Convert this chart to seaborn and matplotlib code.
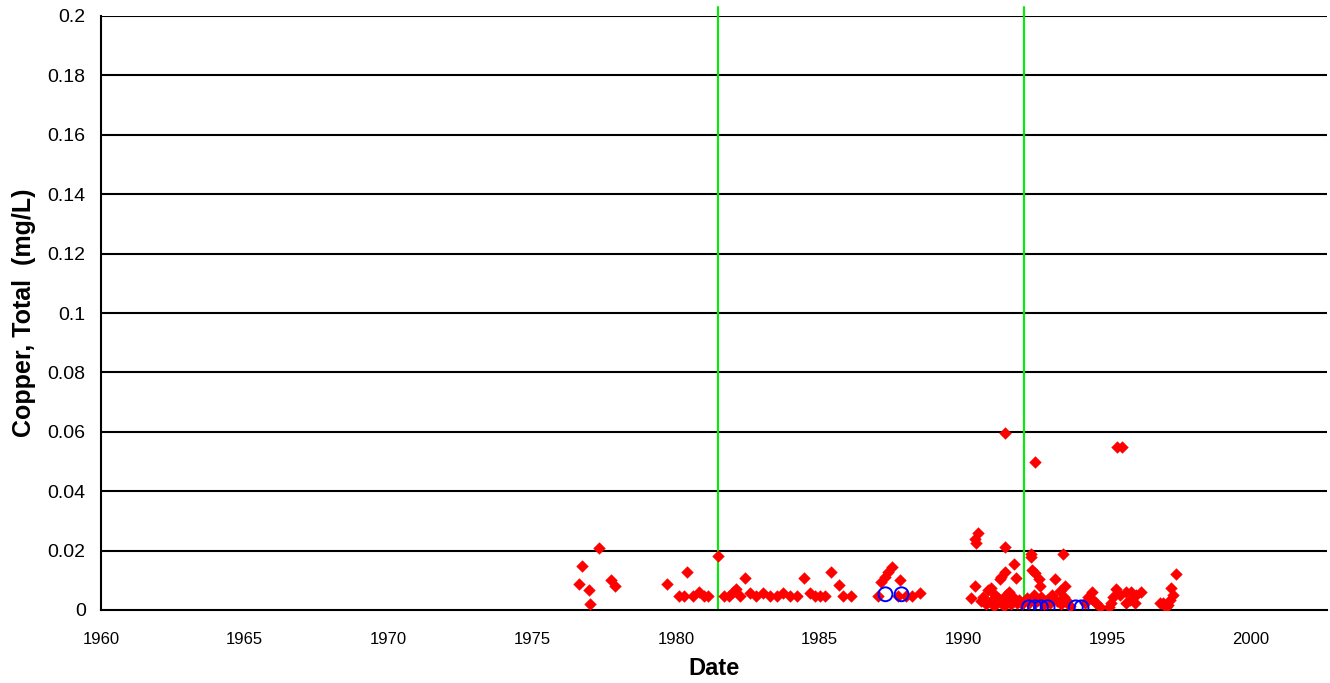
import matplotlib
matplotlib.use("Agg")
import matplotlib.pyplot as plt
import seaborn as sns
import pandas as pd

# ---- data ----
red_years = [
    1976.63, 1976.75, 1976.96, 1977.02, 1977.34, 1977.73, 1977.88,
    1979.70, 1980.10, 1980.28, 1980.37, 1980.58, 1980.80, 1980.98, 1981.10,
    1981.47, 1981.68, 1981.85, 1982.00, 1982.09, 1982.22, 1982.40,
    1982.57, 1982.80, 1983.04, 1983.27, 1983.50, 1983.73, 1983.97, 1984.20,
    1984.46, 1984.66, 1984.83, 1985.00, 1985.18, 1985.41, 1985.68, 1985.82, 1986.10,
    1987.04, 1987.15, 1987.27, 1987.38, 1987.50, 1987.74, 1987.80, 1988.02, 1988.20, 1988.49,
    1990.25, 1990.40, 1990.40, 1990.45, 1990.51, 1990.60, 1990.70, 1990.80, 1990.87,
    1990.96, 1991.00, 1991.05, 1991.10, 1991.15, 1991.20, 1991.27, 1991.32, 1991.44,
    1991.44, 1991.44, 1991.35, 1991.40, 1991.50, 1991.55, 1991.60, 1991.65, 1991.77,
    1991.83, 1991.75, 1991.85, 1991.95, 1992.05,
    1992.20, 1992.28, 1992.35, 1992.35, 1992.40, 1992.45, 1992.49, 1992.50, 1992.55,
    1992.63, 1992.65, 1992.70, 1992.80, 1992.90, 1993.00, 1993.10, 1993.18, 1993.25,
    1993.35, 1993.40, 1993.47, 1993.50, 1993.55, 1993.60, 1993.70,
    1994.23, 1994.34, 1994.46, 1994.52, 1994.63, 1994.75, 1995.07, 1995.15, 1995.21,
    1995.32, 1995.35, 1995.44, 1995.53, 1995.67, 1995.67, 1995.79, 1995.84, 1995.97,
    1996.02, 1996.19, 1996.83, 1996.95, 1997.06, 1997.13, 1997.18, 1997.24, 1997.30, 1997.39,
]
red_values = [
    0.0089, 0.0148, 0.0067, 0.0020, 0.0209, 0.0101, 0.0081,
    0.0088, 0.0046, 0.0046, 0.0128, 0.0046, 0.0060, 0.0046, 0.0046,
    0.0182, 0.0046, 0.0046, 0.0062, 0.0072, 0.0046, 0.0107,
    0.0058, 0.0046, 0.0058, 0.0046, 0.0046, 0.0058, 0.0046, 0.0046,
    0.0107, 0.0058, 0.0046, 0.0046, 0.0046, 0.0128, 0.0083, 0.0046, 0.0046,
    0.0047, 0.0095, 0.0112, 0.0129, 0.0146, 0.0047, 0.0101, 0.0046, 0.0046, 0.0058,
    0.0039, 0.0081, 0.0240, 0.0225, 0.0258, 0.0030, 0.0045, 0.0020, 0.0067,
    0.0073, 0.0035, 0.0015, 0.0050, 0.0025, 0.0040, 0.0103, 0.0112, 0.0129,
    0.0211, 0.0595, 0.0030, 0.0015, 0.0050, 0.0030, 0.0060, 0.0020, 0.0155,
    0.0107, 0.0040, 0.0025, 0.0035, 0.0020,
    0.0040, 0.0025, 0.0190, 0.0178, 0.0135, 0.0050, 0.0499, 0.0123, 0.0030,
    0.0104, 0.0081, 0.0045, 0.0020, 0.0035, 0.0025, 0.0050, 0.0103, 0.0030,
    0.0065, 0.0020, 0.0190, 0.0045, 0.0080, 0.0030, 0.0015,
    0.0023, 0.0045, 0.0062, 0.0034, 0.0023, 0.0009, 0.0009, 0.0025, 0.0043,
    0.0070, 0.0548, 0.0050, 0.0548, 0.0062, 0.0023, 0.0034, 0.0062, 0.0023,
    0.0050, 0.0062, 0.0025, 0.0025, 0.0009, 0.0017, 0.0034, 0.0073, 0.0050, 0.0121,
]
blue_years = [1987.29, 1987.85, 1992.28, 1992.49, 1992.70, 1992.93, 1993.91, 1994.11]
blue_values = [0.0053, 0.0053, 0.0009, 0.0009, 0.0009, 0.0009, 0.0009, 0.0009]

vline_years = [1981.45, 1992.1]

x_ticks = [1960, 1965, 1970, 1975, 1980, 1985, 1990, 1995, 2000]
x_tick_labels = ["1960", "1965", "1970", "1975", "1980", "1985", "1990", "1995", "2000"]
y_ticks = [0, 0.02, 0.04, 0.06, 0.08, 0.1, 0.12, 0.14, 0.16, 0.18, 0.2]
y_tick_labels = ["0", "0.02", "0.04", "0.06", "0.08", "0.1", "0.12", "0.14", "0.16", "0.18", "0.2"]

red_df = pd.DataFrame({"Date": red_years, "Copper": red_values})
blue_df = pd.DataFrame({"Date": blue_years, "Copper": blue_values})

sns.set_style("white")
plt.rcParams["font.family"] = ["Liberation Sans", "DejaVu Sans"]
plt.rcParams["text.color"] = "black"
plt.rcParams["axes.labelcolor"] = "black"

fig = plt.figure(figsize=(13.30, 6.83), dpi=100)
ax = fig.add_axes([101 / 1330, 1 - 610 / 683, (1327 - 101) / 1330, (610 - 16) / 683])

for y in y_ticks[1:]:
    ax.axhline(y, color="black", lw=1.5, zorder=1)

for xv in vline_years:
    ax.axvline(xv, ymin=0, ymax=1.015, color="#00ee00", lw=1.5, clip_on=False, zorder=2)

sns.scatterplot(data=red_df, x="Date", y="Copper", ax=ax, marker="D", s=40,
                color="#ff0000", edgecolor="#ff0000", linewidth=0, zorder=3)
sns.scatterplot(data=blue_df, x="Date", y="Copper", ax=ax, marker="o", s=100,
                facecolor="none", edgecolor="#0000ff", linewidth=1.4, zorder=4)

ax.set_xlim(1960, 2002.65)
ax.set_ylim(0, 0.2)
ax.set_xticks(x_ticks)
ax.set_xticklabels(x_tick_labels, fontsize=12)
ax.set_yticks(y_ticks)
ax.set_yticklabels(y_tick_labels, fontsize=14)

for side in ["top", "right"]:
    ax.spines[side].set_visible(False)
for side in ["left", "bottom"]:
    ax.spines[side].set_color("black")
    ax.spines[side].set_linewidth(1.5)

ax.tick_params(axis="both", direction="out", length=6, width=1.2, colors="black")
ax.tick_params(axis="x", pad=10)
ax.tick_params(axis="y", pad=5)

ax.set_xlabel("Date", fontsize=17, fontweight="bold", labelpad=7)
ax.set_ylabel("Copper, Total  (mg/L)", fontsize=18, fontweight="bold", labelpad=8)

fig.savefig("out.png", dpi=100)
